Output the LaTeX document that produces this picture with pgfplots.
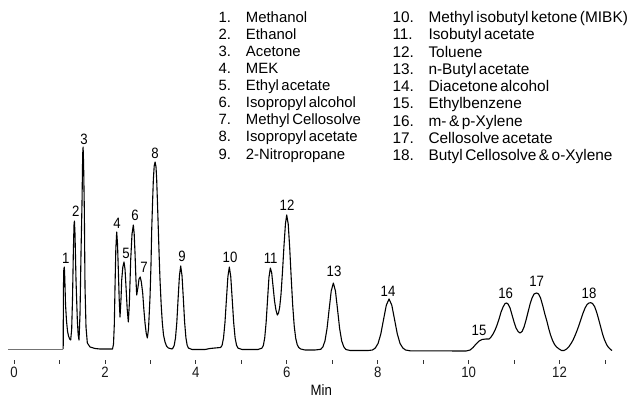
\documentclass[border=0pt]{standalone}
\usepackage{fontspec}
\setmainfont{Liberation Sans}
\newfontfamily\condfont{Liberation Sans}[FakeStretch=0.88]
\newfontfamily\legfont{Liberation Sans}[WordSpace=0.6]
\usepackage{pgfplots}
\pgfplotsset{compat=1.18}
\newcommand{\lbl}{\condfont\fontsize{15bp}{18bp}\selectfont}
\newcommand{\leg}{\legfont\fontsize{14.9bp}{17bp}\selectfont}
\newcommand{\legr}{\legfont\fontsize{15.4bp}{17bp}\selectfont}
\begin{document}
\begin{tikzpicture}
\useasboundingbox (0,0) rectangle (634bp,398bp);
\begin{axis}[
  at={(4.908bp,38bp)}, anchor=south west,
  scale only axis, width=613.71bp, height=360bp,
  xmin=-0.2, xmax=13.3, ymin=-11, ymax=349,
  clip=false,
  axis x line*=bottom, axis y line=none,
  x axis line style={draw=none},
  xtick={0,...,13},
  xticklabels={0,,2,,4,,6,,8,,10,,12,},
  tick align=outside,
  major tick length=3.5bp,
  tick style={black!80, line width=0.8bp},
  xticklabel style={font=\lbl, inner sep=3.5bp, text=black!90},
  /pgf/number format/assume math mode=true,
]
% pre-injection baseline
\addplot[black!55, line width=0.8bp] coordinates {(-0.132,0) (1.082,0)};
% chromatogram trace (time in min, detector response)
\addplot[black, line width=1.1bp, line join=round] table {
x y
1.082 0
1.087 60
1.096 80
1.107 82
1.118 70
1.133 45
1.155 28
1.177 18
1.199 13
1.225 10
1.247 9
1.269 20
1.287 50
1.305 96
1.320 124
1.329 128
1.342 115
1.364 69
1.393 29
1.412 14
1.430 9
1.452 35
1.474 96
1.496 146
1.511 195
1.520 202
1.531 185
1.547 140
1.562 62
1.584 22
1.613 6
1.672 2
1.782 0.5
1.892 0
2.167 0
2.189 5
2.207 25
2.222 62
2.240 100
2.259 117
2.277 105
2.295 79
2.314 50
2.332 32
2.354 50
2.369 69
2.394 82
2.420 87
2.442 80
2.464 62
2.490 40
2.515 27
2.537 45
2.567 89
2.596 115
2.625 124
2.644 115
2.662 96
2.682 70
2.699 54
2.728 62
2.750 70
2.776 72
2.801 67
2.831 56
2.856 40
2.882 26
2.908 16
2.933 11
2.959 20
2.992 52
3.014 85
3.029 119
3.047 145
3.065 169
3.084 183
3.104 187
3.124 182
3.139 169
3.157 145
3.175 119
3.194 92
3.212 69
3.238 44
3.263 26
3.289 14
3.322 7
3.355 3
3.395 1
3.476 0
3.496 0.9
3.524 3.6
3.553 11.2
3.582 26.9
3.610 50.4
3.639 73.2
3.667 83
3.696 73.2
3.725 50.4
3.753 26.9
3.782 11.2
3.810 3.6
3.839 0.9
3.916 -0.5
4.202 -0.5
4.312 0.5
4.422 1
4.545 1.5
4.577 3.6
4.609 11.1
4.641 26.6
4.673 49.8
4.705 72.4
4.737 82
4.768 72.4
4.800 49.8
4.832 26.6
4.864 11.1
4.896 3.6
4.928 0.9
5.016 -0.5
5.368 -0.5
5.454 0.9
5.485 3.6
5.515 11
5.546 26.5
5.577 49
5.608 71.5
5.639 81
5.669 76
5.700 62
5.731 48
5.762 39
5.793 34
5.819 36
5.845 42
5.874 55
5.907 78
5.940 104
5.971 125
5.999 134
6.032 125
6.065 101
6.098 71
6.131 43.5
6.164 23
6.197 10.7
6.230 4.3
6.263 1.5
6.307 0
6.402 -1
6.622 -1
6.747 -0.3
6.794 2
6.840 8
6.886 20.5
6.932 39.5
6.978 58
7.025 66
7.071 58
7.117 39.5
7.163 20.5
7.209 8
7.256 2
7.302 -0.5
7.392 -1.5
7.788 -1.5
7.887 -1
7.948 1
8.008 5.5
8.069 15
8.129 29.5
8.190 43.8
8.250 50
8.311 43.8
8.371 29.5
8.432 15
8.492 5.5
8.553 1
8.613 -1
8.712 -1.8
9.944 -2
10.032 -1
10.098 1.5
10.164 5
10.230 8
10.296 9.5
10.384 10
10.450 10
10.494 12
10.538 15
10.582 19
10.626 24
10.670 30
10.714 37
10.758 42
10.802 45.5
10.835 46
10.868 45
10.912 41
10.956 34
11.000 27
11.044 21
11.088 17.5
11.132 16
11.176 17.5
11.220 22
11.264 29
11.308 37
11.352 45
11.396 51
11.440 55
11.495 56
11.539 55
11.583 51
11.627 44
11.671 36
11.715 29
11.759 21
11.803 14
11.847 8.5
11.891 4.5
11.935 2
11.990 0
12.045 -1.5
12.100 -1.5
12.155 0
12.210 2.5
12.254 5.5
12.298 9
12.342 13.5
12.386 18.5
12.430 24
12.474 30
12.518 36
12.562 41
12.606 44.5
12.650 46
12.687 46.3
12.727 45.5
12.771 42.5
12.815 37
12.859 30
12.903 22.5
12.947 15
12.991 9
13.035 4.5
13.079 1.5
13.123 -0.5
13.156 -1.5
};
% peak numbers
\begin{scope}[every node/.style={font=\lbl, inner sep=0pt}]
\node at (axis cs:1.137,91) {1};
\node at (axis cs:1.357,138) {2};
\node at (axis cs:1.540,210) {3};
\node at (axis cs:2.266,126) {4};
\node at (axis cs:2.464,96) {5};
\node at (axis cs:2.662,134) {6};
\node at (axis cs:2.860,82) {7};
\node at (axis cs:3.102,196) {8};
\node at (axis cs:3.696,93) {9};
\node at (axis cs:4.752,92) {10};
\node at (axis cs:5.647,91) {11};
\node at (axis cs:6.006,144) {12};
\node at (axis cs:7.040,77.3) {13};
\node at (axis cs:8.228,58) {14};
\node at (axis cs:10.230,18.3) {15};
\node at (axis cs:10.817,56) {16};
\node at (axis cs:11.499,67.3) {17};
\node at (axis cs:12.650,56) {18};
\end{scope}
\end{axis}
\node[font=\lbl, anchor=base, inner sep=0pt] at (321.3bp,2.2bp) {Min};
% compound list
\begin{scope}[every node/.style={font=\leg, anchor=base west, inner sep=0pt}]
\node at (218.3bp,375.7bp) {1.}; \node at (245.7bp,375.7bp) {Methanol};
\node at (218.3bp,358.6bp) {2.}; \node at (245.7bp,358.6bp) {Ethanol};
\node at (218.3bp,341.5bp) {3.}; \node at (245.7bp,341.5bp) {Acetone};
\node at (218.3bp,324.4bp) {4.}; \node at (245.7bp,324.4bp) {MEK};
\node at (218.3bp,307.3bp) {5.}; \node at (245.7bp,307.3bp) {Ethyl acetate};
\node at (218.3bp,290.2bp) {6.}; \node at (245.7bp,290.2bp) {Isopropyl alcohol};
\node at (218.3bp,273.1bp) {7.}; \node at (245.7bp,273.1bp) {Methyl Cellosolve};
\node at (218.3bp,256.0bp) {8.}; \node at (245.7bp,256.0bp) {Isopropyl acetate};
\node at (218.3bp,238.9bp) {9.}; \node at (245.7bp,238.9bp) {2-Nitropropane};
\end{scope}
\begin{scope}[every node/.style={font=\legr, anchor=base west, inner sep=0pt}]
\node at (392.3bp,375.5bp) {10.}; \node at (428.3bp,375.5bp) {Methyl isobutyl ketone (MIBK)};
\node at (392.3bp,358.2bp) {11.}; \node at (428.3bp,358.2bp) {Isobutyl acetate};
\node at (392.3bp,340.9bp) {12.}; \node at (428.3bp,340.9bp) {Toluene};
\node at (392.3bp,323.6bp) {13.}; \node at (428.3bp,323.6bp) {n-Butyl acetate};
\node at (392.3bp,306.3bp) {14.}; \node at (428.3bp,306.3bp) {Diacetone alcohol};
\node at (392.3bp,289.0bp) {15.}; \node at (428.3bp,289.0bp) {Ethylbenzene};
\node at (392.3bp,271.7bp) {16.}; \node at (428.3bp,271.7bp) {m- \& p-Xylene};
\node at (392.3bp,254.4bp) {17.}; \node at (428.3bp,254.4bp) {Cellosolve acetate};
\node at (392.3bp,237.1bp) {18.}; \node at (428.3bp,237.1bp) {Butyl Cellosolve \& o-Xylene};
\end{scope}
\end{tikzpicture}
\end{document}
